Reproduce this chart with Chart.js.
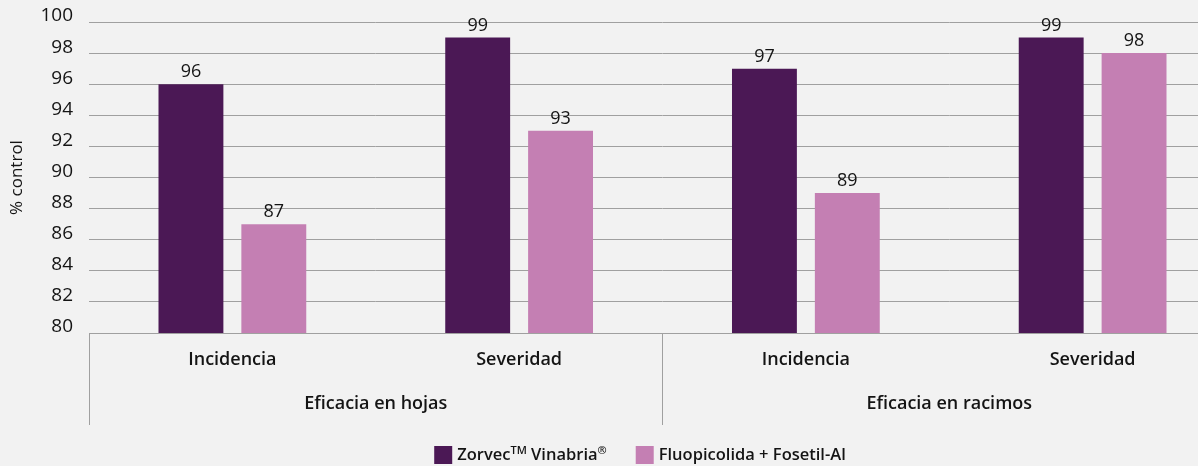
<!DOCTYPE html>
<html>
<head>
<meta charset="utf-8">
<script src="https://cdn.jsdelivr.net/npm/chart.js@4.4.1/dist/chart.umd.min.js"></script>
<style>
  html, body { margin: 0; padding: 0; background: #f2f2f2; overflow: hidden; }
  #wrap { width: 1240px; height: 466px; }
</style>
</head>
<body>
<div id="wrap"><canvas id="chart" width="1240" height="466"></canvas></div>
<script>
// data
const categories = ['Incidencia', 'Severidad', 'Incidencia', 'Severidad'];
const groups = ['Eficacia en hojas', 'Eficacia en racimos'];
const zorvec = [96, 99, 97, 99];
const fluopicolida = [87, 93, 89, 98];
const seriesNames = ['Zorvec™ Vinabria®', 'Fluopicolida + Fosetil-Al'];
const yMin = 80, yMax = 100, yStep = 2;

const colors = ['#4b1855', '#c47fb3'];
const textColor = '#141414';
const lineColor = '#a0a0a0';
const FONT = '"Open Sans", Lato, sans-serif';

// numbers on top of the bars
const valueLabels = {
  id: 'valueLabels',
  afterDatasetsDraw(chart) {
    const ctx = chart.ctx;
    ctx.save();
    ctx.font = '500 18px ' + FONT;
    ctx.fillStyle = textColor;
    ctx.textAlign = 'center';
    ctx.textBaseline = 'alphabetic';
    chart.data.datasets.forEach((ds, i) => {
      chart.getDatasetMeta(i).data.forEach((bar, j) => {
        ctx.fillText(ds.data[j], bar.x, bar.y - 7);
      });
    });
    ctx.restore();
  }
};

// legend at the bottom, ™ and ® drawn as small superscripts
const supText = { '™': 'TM', '®': '®' };
const bottomLegend = {
  id: 'bottomLegend',
  afterDraw(chart) {
    const ctx = chart.ctx;
    ctx.save();
    const main = '600 16.5px ' + FONT, sup = '600 11px ' + FONT;
    const runs = name => name.split('').map(ch => supText[ch] ? { t: supText[ch], sup: true } : { t: ch, sup: false });
    const measure = name => runs(name).reduce((w, r) => {
      ctx.font = r.sup ? sup : main;
      return w + ctx.measureText(r.t).width;
    }, 0);
    const box = 18, gapText = 5, gapItem = 29;
    const widths = seriesNames.map(measure);
    const total = widths.reduce((a, w) => a + box + gapText + w, 0) + gapItem * (seriesNames.length - 1);
    let x = 640 - total / 2;
    const y = 455;
    ctx.textBaseline = 'middle';
    seriesNames.forEach((name, i) => {
      ctx.fillStyle = colors[i];
      ctx.fillRect(x, y - box / 2, box, box);
      x += box + gapText;
      ctx.fillStyle = textColor;
      runs(name).forEach(r => {
        ctx.font = r.sup ? sup : main;
        ctx.fillText(r.t, x, r.sup ? y - 4 : y);
        x += ctx.measureText(r.t).width;
      });
      x += gapItem;
    });
    ctx.restore();
  }
};

new Chart(document.getElementById('chart'), {
  type: 'bar',
  data: {
    labels: categories,
    datasets: [
      { label: seriesNames[0], data: zorvec, backgroundColor: colors[0] },
      { label: seriesNames[1], data: fluopicolida, backgroundColor: colors[1] }
    ]
  },
  options: {
    responsive: false,
    animation: false,
    devicePixelRatio: 1,
    categoryPercentage: 0.578,
    barPercentage: 0.783,
    layout: { padding: { top: 22, right: 4, bottom: 41, left: 0 } },
    plugins: {
      legend: { display: false },
      tooltip: { enabled: false }
    },
    scales: {
      y: {
        min: yMin,
        max: yMax,
        ticks: { stepSize: yStep, padding: 16, labelOffset: -6, color: textColor, font: { family: FONT, size: 19, weight: 500 } },
        grid: { color: lineColor, drawTicks: false },
        border: { display: false },
        title: { display: true, text: '% control', color: textColor, font: { family: FONT, size: 17, weight: 500 }, padding: { top: 7, bottom: 0 } },
        afterFit: s => { s.width = 89; s.paddingTop = 0; s.paddingBottom = 0; }
      },
      x: {
        offset: true,
        grid: {
          offset: true,
          drawOnChartArea: false,
          tickLength: 47,
          color: ctx => (ctx.index % 2 === 0 ? lineColor : 'rgba(0,0,0,0)')
        },
        border: { display: true, color: lineColor },
        ticks: { padding: -31, color: textColor, font: { family: FONT, size: 18, weight: 600 } },
        afterFit: s => { s.height = 47; }
      },
      x2: {
        type: 'category',
        labels: groups,
        position: 'bottom',
        offset: true,
        grid: { offset: true, drawOnChartArea: false, tickLength: 45, color: lineColor },
        border: { display: false },
        ticks: { padding: -32, color: textColor, font: { family: FONT, size: 18, weight: 600 } },
        afterFit: s => { s.height = 45; }
      }
    }
  },
  plugins: [valueLabels, bottomLegend]
});
</script>
</body>
</html>
